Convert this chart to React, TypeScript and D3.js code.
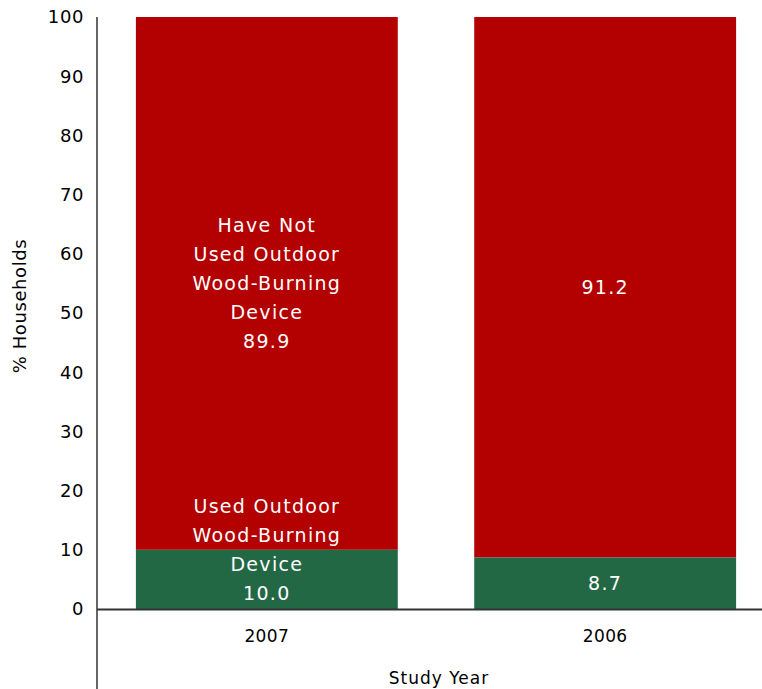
import React from "react";
import * as d3 from "d3";

const categories = ["2007", "2006"];
const usedValues = [10.0, 8.7];
const notUsedValues = [89.9, 91.2];
const yTicks = [0, 10, 20, 30, 40, 50, 60, 70, 80, 90, 100];
const usedLabels = [["Used Outdoor", "Wood-Burning", "Device", "10.0"], ["8.7"]];
const notUsedLabels = [["Have Not", "Used Outdoor", "Wood-Burning", "Device", "89.9"], ["91.2"]];

const RED = "#b30000";
const GREEN = "#236845";
const FONT = "'DejaVu Sans', Verdana, sans-serif";

export default function App() {
  const W = 762, H = 689;
  const left = 97, top = 17, bottom = 609, right = 775;
  const x = d3.scaleBand<string>().domain(categories).range([left, right]).paddingInner(0.226).paddingOuter(0.115);
  const y = d3.scaleLinear().domain([0, 100]).range([bottom, top]);
  const lh = 28.8;

  return (
    <svg width={W} height={H} style={{ position: "absolute", left: 0, top: 0 }} fontFamily={FONT}>
      {categories.map((c, i) => {
        const bx = x(c)!;
        const bw = x.bandwidth();
        const u = usedValues[i];
        return (
          <g key={c}>
            <rect x={bx} y={y(100)} width={bw} height={y(u) - y(100)} fill={RED} />
            <rect x={bx} y={y(u)} width={bw} height={y(0) - y(u)} fill={GREEN} />
          </g>
        );
      })}
      {categories.map((c, i) => {
        const cx = x(c)! + x.bandwidth() / 2;
        const u = usedValues[i];
        const redLines = notUsedLabels[i];
        const redCenter = (y(100) + y(u)) / 2;
        const greenLines = usedLabels[i];
        const greenCenter = greenLines.length > 1 ? y(u) : (y(u) + y(0)) / 2;
        return (
          <g key={"l" + c} fill="#fff" fontSize={19} textAnchor="middle" letterSpacing={1.3}>
            {redLines.map((t, k) => (
              <text key={"r" + k} x={cx} y={redCenter + (k - (redLines.length - 1) / 2) * lh} dy="0.35em">{t}</text>
            ))}
            {greenLines.map((t, k) => (
              <text key={"g" + k} x={cx} y={greenCenter + (k - (greenLines.length - 1) / 2) * lh} dy="0.35em">{t}</text>
            ))}
          </g>
        );
      })}
      {yTicks.map((t) => (
        <text key={t} x={84} y={y(t)} dy="0.35em" textAnchor="end" fontSize={18} fill="#000" letterSpacing={0.6}>{t}</text>
      ))}
      {categories.map((c) => (
        <text key={"c" + c} x={x(c)! + x.bandwidth() / 2} y={636} dy="0.35em" textAnchor="middle" fontSize={17} fill="#000" letterSpacing={0.4}>{c}</text>
      ))}
      <line x1={left} x2={left} y1={top} y2={H} stroke="#333" strokeWidth={1.5} />
      <line x1={left} x2={W} y1={bottom + 0.5} y2={bottom + 0.5} stroke="#333" strokeWidth={2} />
      <text transform={`translate(26,306) rotate(-90)`} textAnchor="middle" fontSize={18} fill="#000" letterSpacing={0.6}>% Households</text>
      <text x={439} y={684} textAnchor="middle" fontSize={17} fill="#000" letterSpacing={1}>Study Year</text>
    </svg>
  );
}
